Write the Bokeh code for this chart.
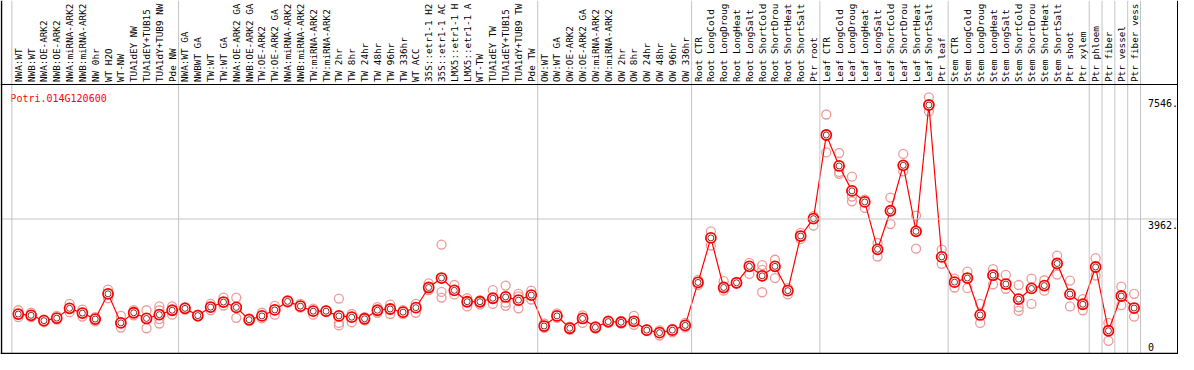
import math
from bokeh.plotting import figure
from bokeh.models import Range1d, Span
from bokeh.embed import file_html
from bokeh.resources import INLINE
from bokeh.core.properties import value

gene = "Potri.014G120600"

labels = [
    "NWA:WT", "NWB:WT", "NWA:OE-ARK2", "NWB:OE-ARK2", "NWA:miRNA-ARK2", "NWB:miRNA-ARK2",
    "NW 0hr", "WT H2O", "WT-NW", "TUA1dEY NW", "TUA1dEY+TUB15", "TUA1dY+TUB9 NW", "Pde NW",
    "NWA:WT GA", "NWBWT GA", "TW:WT", "TW:WT GA", "NWA:OE-ARK2 GA", "NWB:OE-ARK2 GA",
    "TW:OE-ARK2", "TW:OE-ARK2 GA", "NWA:miRNA-ARK2", "NWB:miRNA-ARK2", "TW:miRNA-ARK2",
    "TW:miRNA-ARK2", "TW 2hr", "TW 8hr", "TW 24hr", "TW 48hr", "TW 96hr", "TW 336hr",
    "WT ACC", "35S::etr1-1 H2", "35S::etr1-1 AC", "LMX5::etr1-1 H", "LMX5::etr1-1 A",
    "WT-TW", "TUA1dEY TW", "TUA1dEY+TUB15", "TUA1dY+TUB9 TW", "Pde TW",
    "OW:WT", "OW:WT GA", "OW:OE-ARK2", "OW:OE-ARK2 GA", "OW:miRNA-ARK2", "OW:miRNA-ARK2",
    "OW 2hr", "OW 8hr", "OW 24hr", "OW 48hr", "OW 96hr", "OW 336hr",
    "Root CTR", "Root LongCold", "Root LongDroug", "Root LongHeat", "Root LongSalt",
    "Root ShortCold", "Root ShortDrou", "Root ShortHeat", "Root ShortSalt", "Ptr root",
    "Leaf CTR", "Leaf LongCold", "Leaf LongDroug", "Leaf LongHeat", "Leaf LongSalt",
    "Leaf ShortCold", "Leaf ShortDrou", "Leaf ShortHeat", "Leaf ShortSalt", "Ptr leaf",
    "Stem CTR", "Stem LongCold", "Stem LongDroug", "Stem LongHeat", "Stem LongSalt",
    "Stem ShortCold", "Stem ShortDrou", "Stem ShortHeat", "Stem ShortSalt", "Ptr shoot",
    "Ptr xylem", "Ptr phloem", "Ptr fiber", "Ptr vessel", "Ptr fiber vess",
]

means = [
    1162, 1125, 967, 1042, 1330, 1190, 1014, 1758, 902, 1200, 1032, 1144, 1274,
    1330, 1116, 1367, 1516, 1358, 995, 1107, 1283, 1535, 1395, 1246, 1246, 1107, 1070,
    1023, 1274, 1311, 1218, 1349, 1944, 2223, 1860, 1525, 1525, 1628, 1665, 1572, 1721,
    809, 1107, 744, 1032, 772, 939, 921, 949, 688, 614, 688, 828,
    2093, 3404, 1944, 2083, 2567, 2288, 2567, 1851, 3460, 3971,
    6436, 5524, 4790, 4464, 3069, 4204, 5543, 3599, 7319, 2846,
    2102, 2223, 1135, 2306, 2046, 1600, 1916, 2000, 2651, 1748, 1451, 2548, 670, 1693, 1339,
]

reps = [
    [1274, 1162, 1070], [1200, 1125, 1070], [995, 967, 921], [1107, 1042, 995],
    [1460, 1330, 1218], [1293, 1190, 1088], [1070, 1014, 949], [1879, 1758, 1628],
    [1107, 902, 763], [1274, 1200, 1125], [1274, 1032, 744], [1386, 1274, 1144, 1014, 884],
    [1386, 1274, 1144],
    [1367, 1330, 1293], [1144, 1116, 1088], [1460, 1367, 1274], [1646, 1516, 1414],
    [1646, 1358, 1051], [1032, 995, 958], [1200, 1107, 1032], [1404, 1283, 1144],
    [1572, 1535, 1497], [1460, 1395, 1349], [1321, 1246, 1144], [1274, 1246, 1218],
    [1618, 1107, 902, 828], [1163, 1070, 921], [1070, 1023, 977], [1367, 1274, 1200],
    [1442, 1311, 1163], [1274, 1218, 1163], [1460, 1349, 1200], [2065, 1944, 1869],
    [3209, 1814, 1646], [2018, 1860, 1739], [1628, 1525, 1386], [1572, 1525, 1442],
    [1869, 1628, 1460], [2000, 1665, 1497, 1404], [1758, 1683, 1572, 1330], [1851, 1721, 1590],
    [884, 809, 753], [1181, 1107, 1051], [791, 744, 698], [1125, 1032, 902],
    [809, 772, 735], [977, 939, 902], [958, 921, 884], [1107, 949, 846],
    [716, 688, 660], [679, 614, 530], [735, 688, 623], [902, 828, 772],
    [2167, 2093, 2018], [3599, 3404, 3181], [2130, 1944, 1851], [2111, 2083, 2055],
    [2669, 2567, 2344], [2604, 2465, 1804], [2762, 2567, 2223], [1925, 1851, 1739],
    [3553, 3460, 3367], [4046, 3971, 3767],
    [7040, 6436, 5924], [5906, 5524, 5348, 5292], [5208, 4790, 4622, 4483], [4529, 4464, 4287],
    [3255, 3069, 2855], [4594, 4204, 3813], [5878, 5543, 5366], [4064, 3599, 3088],
    [7546, 7319, 7133], [3060, 2846, 2641],
    [2204, 2102, 1944], [2409, 2223, 1925], [1460, 1135, 902], [2483, 2306, 2037],
    [2316, 2046, 1907], [2018, 1600, 1367, 1256], [2204, 1916, 1460], [2158, 2000, 1851],
    [2883, 2651, 2325], [2148, 1748, 1386], [1600, 1451, 1274], [2809, 2548, 2297],
    [902, 670, 372], [1972, 1693, 1423], [1758, 1339, 1088],
]

group_bounds = [-0.5, 12.5, 40.5, 52.5, 62.5, 72.5, 83.5, 84.5, 85.5, 86.5, 87.5]
ytick_vals = [7546, 3962, 0]
ytick_text = ["7546.", "3962.", "0"]

# ---- layout (pixels) ----
W, H = 1178, 354
REF_W = 1194
X0, DX = 18.0, 13.0          # reference px of first sample and spacing
TOP, BOT = 84.0, 353.0       # px from top: data-area top line / zero line
YMAX = max(max(r) for r in reps) * 1.05
k = (BOT - TOP) / YMAX       # px per value unit
y_end = YMAX + TOP / k
y_start = -(H - BOT) / k

def xd(ref_px):
    return (ref_px - X0) / DX

def yd(px_from_top):
    return y_end - px_from_top / k

FONT = value("DejaVu Sans Mono")
FS = "10px"
FS_LBL = "9.3px"

p = figure(width=W, height=H, output_backend="svg", toolbar_location=None,
           x_range=Range1d(-X0 / DX, (REF_W - X0) / DX),
           y_range=Range1d(y_start, y_end),
           x_axis_type=None, y_axis_type=None, min_border=0,
           background_fill_color="white", border_fill_color="white")
p.outline_line_color = None
p.grid.visible = False

GRAY = "#c4c4c4"
for b in group_bounds:
    p.add_layout(Span(location=b, dimension="height", line_color=GRAY, line_width=1))
p.add_layout(Span(location=ytick_vals[1], dimension="width", line_color=GRAY, line_width=1))
p.add_layout(Span(location=YMAX, dimension="width", line_color="black", line_width=1))
p.add_layout(Span(location=0, dimension="width", line_color="black", line_width=1.5))
p.add_layout(Span(location=xd(1), dimension="height", line_color="black", line_width=1.5))
p.add_layout(Span(location=xd(1193), dimension="height", line_color="black", line_width=1))

idx = list(range(len(labels)))

# sample labels (rotated)
p.text(x=idx, y=[YMAX + 2.5 / k] * len(idx), text=labels, angle=math.pi / 2,
       text_align="left", text_baseline="middle", text_font=FONT,
       text_font_size=FS_LBL, text_color="black")

# replicates
rx, ry = [], []
for i, r in enumerate(reps):
    for v in r:
        rx.append(i)
        ry.append(v)
p.scatter(rx, ry, marker="circle", size=9, fill_color=None,
          line_color="#ee9a9a", line_width=1.3)

# mean line and markers
p.line(idx, means, line_color="#ff0000", line_width=1.2)
p.scatter(idx, means, marker="circle", size=10, fill_color="white",
          line_color="#ff0000", line_width=1.8)
p.scatter(idx, means, marker="circle", size=6, fill_color=None,
          line_color="#5a0000", line_width=0.8)

# gene title
p.text(x=[xd(10)], y=[yd(TOP + 8)], text=[gene], text_align="left",
       text_baseline="top", text_font=FONT, text_font_size=FS, text_color="#ff0000")

# value labels on right
p.text(x=[xd(1163)] * 2, y=[v - 2 / k for v in ytick_vals[:2]], text=ytick_text[:2],
       text_align="left", text_baseline="top", text_font=FONT, text_font_size=FS,
       text_color="black")
p.text(x=[xd(1163)], y=[ytick_vals[2] + 3 / k], text=ytick_text[2:],
       text_align="left", text_baseline="bottom", text_font=FONT, text_font_size=FS,
       text_color="black")

open("out.html", "w").write(file_html(p, INLINE))
